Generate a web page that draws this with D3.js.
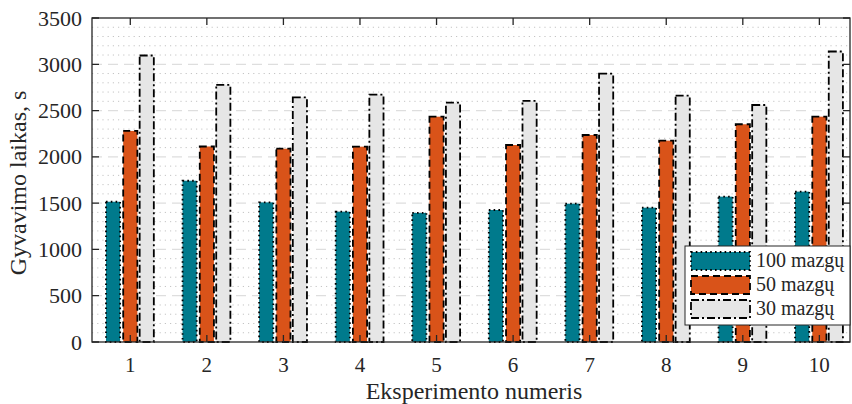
<!DOCTYPE html>
<html>
<head>
<meta charset="utf-8">
<script src="https://cdn.jsdelivr.net/npm/d3@7"></script>
<style>
  body { margin: 0; background: #fff; }
  svg text { font-family: "Liberation Serif", "DejaVu Serif", serif; fill: #262626; }
</style>
</head>
<body>
<div id="plot-container"></div>
<script>
// Data
const experiments = [1, 2, 3, 4, 5, 6, 7, 8, 9, 10];
const nodes100 = [1515, 1742, 1508, 1408, 1394, 1426, 1494, 1451, 1570, 1624];
const nodes50 = [2280, 2112, 2088, 2110, 2434, 2128, 2236, 2175, 2352, 2434];
const nodes30 = [3095, 2778, 2643, 2672, 2585, 2604, 2900, 2661, 2560, 3138];
const seriesNames = ['100 mazgų', '50 mazgų', '30 mazgų'];
const yTicks = [0, 500, 1000, 1500, 2000, 2500, 3000, 3500];

const width = 852, height = 404;
const plotLeft = 92, plotRight = 850, plotTop = 18, plotBottom = 342;

const svg = d3.select('#plot-container')
    .append('svg')
    .attr('width', width)
    .attr('height', height);

const x = d3.scaleLinear().domain([0.5, 10.4]).range([plotLeft, plotRight]);
const y = d3.scaleLinear().domain([0, 3500]).range([plotBottom, plotTop]);

// Grid: minor dotted lines every 100, major dashed every 500
const minor = d3.range(100, 3500, 100).filter(v => v % 500 !== 0);
svg.append('g').selectAll('line')
    .data(minor)
    .enter()
    .append('line')
    .attr('x1', plotLeft).attr('x2', plotRight)
    .attr('y1', d => y(d)).attr('y2', d => y(d))
    .attr('stroke', '#c4c4c4')
    .attr('stroke-width', 1)
    .attr('stroke-dasharray', '1.2,4');

svg.append('g').selectAll('line')
    .data(yTicks.slice(1, -1))
    .enter()
    .append('line')
    .attr('x1', plotLeft).attr('x2', plotRight)
    .attr('y1', d => y(d)).attr('y2', d => y(d))
    .attr('stroke', '#dedede')
    .attr('stroke-width', 1.3)
    .attr('stroke-dasharray', '10,6');

// Bars
const series = [
    { name: seriesNames[0], values: nodes100, fill: '#007a8c', dash: '1.6,3.2', offset: -0.225 },
    { name: seriesNames[1], values: nodes50, fill: '#d95319', dash: '7,4', offset: 0 },
    { name: seriesNames[2], values: nodes30, fill: '#e6e6e6', dash: '8,3,2,3', offset: 0.215 }
];
const barW = 0.185;

series.forEach(s => {
    svg.append('g').selectAll('rect')
        .data(experiments)
        .enter()
        .append('rect')
        .attr('x', (d) => x(d + s.offset - barW / 2))
        .attr('y', (d, i) => y(s.values[i]))
        .attr('width', x(barW) - x(0))
        .attr('height', (d, i) => y(0) - y(s.values[i]))
        .attr('fill', s.fill)
        .attr('stroke', '#000')
        .attr('stroke-width', 1.8)
        .attr('stroke-dasharray', s.dash);
});

// Axes box and ticks
const tickLen = 7;
const axisG = svg.append('g');
axisG.append('rect')
    .attr('x', plotLeft).attr('y', plotTop)
    .attr('width', plotRight - plotLeft).attr('height', plotBottom - plotTop)
    .attr('fill', 'none')
    .attr('stroke', '#262626')
    .attr('stroke-width', 1.3);

axisG.selectAll('.xt')
    .data(experiments)
    .enter()
    .append('path')
    .attr('d', d => `M${x(d)},${plotBottom}v${-tickLen}M${x(d)},${plotTop}v${tickLen}`)
    .attr('stroke', '#262626')
    .attr('stroke-width', 1.3);

axisG.selectAll('.yt')
    .data(yTicks)
    .enter()
    .append('path')
    .attr('d', d => `M${plotLeft},${y(d)}h${tickLen}M${plotRight},${y(d)}h${-tickLen}`)
    .attr('stroke', '#262626')
    .attr('stroke-width', 1.3);

// Tick labels
svg.append('g').selectAll('text')
    .data(experiments)
    .enter()
    .append('text')
    .attr('x', d => x(d))
    .attr('y', 372)
    .attr('text-anchor', 'middle')
    .attr('font-size', 21)
    .text(d => d);

svg.append('g').selectAll('text')
    .data(yTicks)
    .enter()
    .append('text')
    .attr('x', plotLeft - 10)
    .attr('y', d => y(d) + 7.5)
    .attr('text-anchor', 'end')
    .attr('font-size', 22)
    .text(d => d);

// Axis titles
svg.append('text')
    .attr('x', (plotLeft + plotRight) / 2 + 3)
    .attr('y', 399)
    .attr('text-anchor', 'middle')
    .attr('font-size', 24)
    .text('Eksperimento numeris');

svg.append('text')
    .attr('transform', `translate(26,${(plotTop + plotBottom) / 2 + 3}) rotate(-90)`)
    .attr('text-anchor', 'middle')
    .attr('font-size', 24)
    .text('Gyvavimo laikas, s');

// Legend
const legend = svg.append('g');
legend.append('rect')
    .attr('x', 685).attr('y', 246)
    .attr('width', 165).attr('height', 79)
    .attr('fill', '#fff')
    .attr('stroke', '#262626')
    .attr('stroke-width', 1);

series.forEach((s, i) => {
    const rowY = 252 + i * 24;
    legend.append('rect')
        .attr('x', 691).attr('y', rowY)
        .attr('width', 59).attr('height', 18)
        .attr('fill', s.fill)
        .attr('stroke', '#000')
        .attr('stroke-width', 1.8)
        .attr('stroke-dasharray', s.dash);
    legend.append('text')
        .attr('x', 756)
        .attr('y', rowY + 15)
        .attr('font-size', 20)
        .text(s.name);
});
</script>
</body>
</html>
